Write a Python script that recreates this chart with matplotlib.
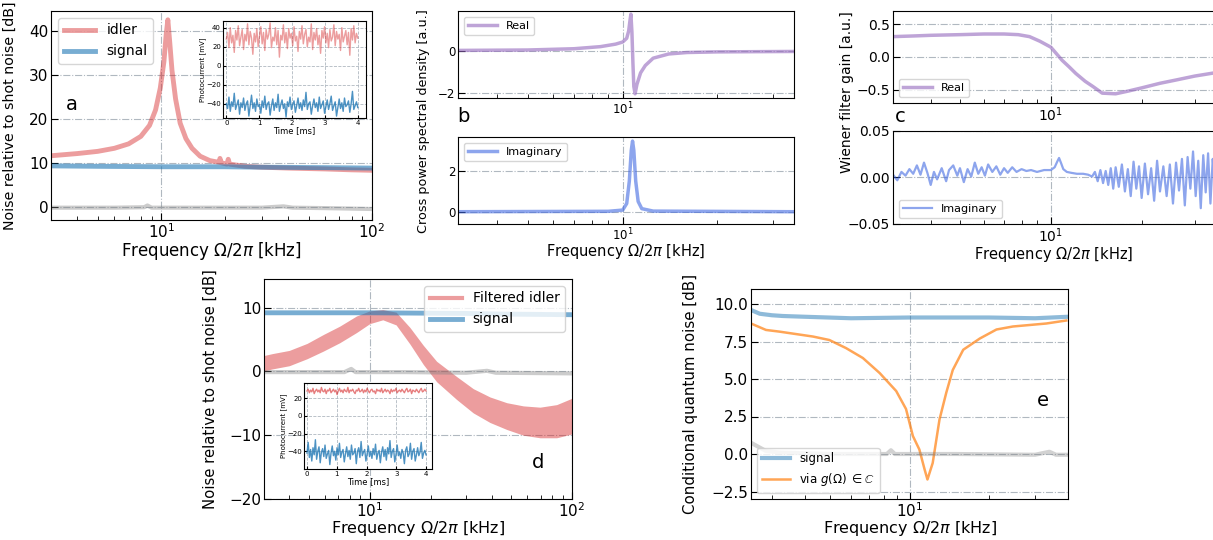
import numpy as np
import matplotlib
matplotlib.use("Agg")
import matplotlib.pyplot as plt

# ---------------- data ----------------
# panel a: noise spectra relative to shot noise [dB]
a_idler_f = [3, 4, 5, 6, 7, 8, 8.8, 9.4, 9.9, 10.3, 10.55, 10.75, 10.95, 11.25, 11.7, 12.3, 13.1,
             14.0, 15.3, 17.0, 18.8, 19.0, 19.3, 20.5, 20.8, 21.1, 25, 30, 40, 60, 80, 100]
a_idler_db = [11.6, 12.1, 12.6, 13.3, 14.3, 16.0, 18.5, 22.0, 27.0, 33.0, 39.0, 42.5, 38.0, 31.0,
              24.5, 19.0, 15.5, 13.3, 11.5, 10.5, 10.1, 11.0, 10.0, 9.7, 10.8, 9.7, 9.2, 9.0,
              8.8, 8.6, 8.4, 8.3]
a_signal_f = [3, 5, 10, 20, 30, 60, 100]
a_signal_db = [9.3, 9.2, 9.1, 9.1, 9.0, 8.9, 8.8]
a_shot_f = [3, 6, 8.3, 8.6, 9, 15, 30, 38, 42, 60, 100]
a_shot_db = [-0.2, -0.2, -0.1, 0.3, -0.2, -0.2, -0.2, 0.1, -0.2, -0.3, -0.5]

# panel a inset: photocurrents [mV]
ina_idler = [28, 35, 19, 40, 24, 32, 14, 37, 27, 42, 21, 30, 38, 17, 33, 26, 44, 22, 36, 29,
             12, 34, 25, 39, 20, 31, 41, 23, 35, 16, 38, 28, 33, 45, 19, 30, 26, 40, 22, 37,
             9, 32, 27, 43, 24, 35, 18, 39, 29, 34, 21, 41, 26, 31, 15, 36, 28, 42, 23, 33,
             38, 20, 30, 25, 44, 17, 35, 27, 39, 22, 32, 13, 37, 29, 41, 24, 34, 19, 38, 26,
             30, 43, 21, 36, 28, 33, 16, 40, 25, 31, 37, 22, 35, 11, 39, 27, 42, 24, 34, 29]
ina_signal = [-40, -45, -33, -48, -38, -43, -29, -46, -41, -36, -51, -39, -44, -34, -47, -40,
              -37, -53, -42, -31, -45, -39, -48, -35, -43, -41, -50, -37, -44, -32, -46, -40,
              -38, -52, -42, -35, -47, -39, -44, -30, -48, -41, -36, -45, -40, -54, -38, -43,
              -33, -46, -41, -37, -49, -42, -34, -45, -39, -47, -36, -43, -28, -46, -40, -38,
              -51, -42, -35, -44, -39, -48, -33, -45, -41, -37, -50, -43, -36, -46, -40, -32,
              -47, -42, -38, -53, -44, -35, -45, -39, -48, -34, -43, -41, -37, -49, -40, -27,
              -46, -42, -38, -44]

# panel b: cross power spectral density [a.u.]
b_real_f = [3, 5, 7, 8.5, 9.5, 10.0, 10.3, 10.45, 10.55, 10.62, 10.7, 10.78, 10.85, 10.95,
            11.1, 11.4, 11.8, 12.5, 14, 16, 20, 35]
b_real = [0.02, 0.04, 0.1, 0.2, 0.32, 0.42, 0.6, 0.95, 1.45, 1.75, 0.9, -0.6, -1.7, -2.05,
          -1.6, -1.05, -0.7, -0.35, -0.15, -0.08, -0.05, -0.03]
b_imag_f = [3, 9, 10, 10.3, 10.5, 10.65, 10.75, 10.85, 11.0, 11.2, 11.5, 12.5, 35]
b_imag = [0.0, 0.02, 0.08, 0.4, 1.5, 3.0, 3.45, 3.0, 1.5, 0.5, 0.15, 0.03, 0.0]

# panel c: Wiener filter gain [a.u.]
c_real_f = [3, 3.5, 4, 5, 6, 7, 7.8, 8.5, 9.2, 10, 10.9, 11.5, 12.1, 13, 13.8, 14.8, 16.4,
            18, 20, 23, 26, 30, 35]
c_real = [0.31, 0.32, 0.33, 0.34, 0.35, 0.35, 0.34, 0.31, 0.24, 0.15, -0.05, -0.15, -0.25,
          -0.37, -0.45, -0.55, -0.56, -0.52, -0.47, -0.4, -0.35, -0.29, -0.24]
c_imag_f = [3.0, 3.1, 3.2, 3.3, 3.4, 3.5, 3.6, 3.7, 3.8, 3.9, 4.0, 4.1, 4.2, 4.35, 4.5, 4.6,
            4.75, 4.9, 5.0, 5.15, 5.3, 5.45, 5.6, 5.75, 5.9, 6.05, 6.2, 6.4, 6.6, 6.8, 7.0,
            7.2, 7.45, 7.7, 8.0, 8.3, 8.6, 9.0, 9.5, 10.0, 10.3, 10.5, 10.65, 10.8, 11.0,
            11.3, 11.7, 12.2, 12.8, 13.3, 13.7, 14.0, 14.3, 14.6, 14.9, 15.2, 15.5, 15.8,
            16.1, 16.4, 16.8, 17.2, 17.6, 18.0, 18.4, 18.8, 19.2, 19.6, 20.0, 20.5, 21.0,
            21.5, 22.0, 22.5, 23.0, 23.6, 24.2, 24.8, 25.4, 26.0, 26.6, 27.2, 27.8, 28.4,
            29.0, 29.6, 30.2, 30.8, 31.4, 32.0, 32.6, 33.2, 33.8, 34.4, 35.0]
c_imag = [0.003, -0.003, 0.006, 0.002, 0.009, 0.004, 0.013, 0.003, 0.016, 0.005, -0.008,
          0.006, -0.002, 0.01, -0.004, 0.008, 0.013, 0.002, 0.01, -0.005, 0.009, 0.001,
          0.016, 0.004, 0.011, 0.002, 0.014, 0.006, 0.012, 0.003, 0.01, 0.005, 0.011, 0.006,
          0.009, 0.007, 0.008, 0.006, 0.008, 0.008, 0.011, 0.017, 0.021, 0.016, 0.009,
          0.006, 0.005, 0.004, 0.004, 0.003, 0.001, 0.006, -0.004, 0.008, -0.006, 0.007,
          -0.008, 0.01, -0.012, 0.011, -0.01, 0.014, -0.015, 0.009, -0.02, 0.017, -0.012,
          0.012, -0.022, 0.015, -0.018, 0.01, -0.025, 0.018, -0.015, 0.012, -0.02, 0.014,
          -0.028, 0.016, -0.014, 0.02, -0.03, 0.022, -0.012, 0.028, -0.02, 0.018, -0.033,
          0.024, -0.016, 0.026, -0.028, 0.02, -0.01]

# panel d: filtered idler vs signal [dB]
d_idler_f = [3, 3.3, 4, 4.9, 5.9, 7.1, 8.6, 10, 11.6, 13.5, 15.8, 18.4, 21.4, 26.9, 32.5,
             39.3, 47.6, 57.5, 69.5, 84, 100]
d_idler_db = [1.3, 1.6, 2.1, 3.2, 4.5, 5.8, 7.4, 8.5, 8.9, 8.3, 5.6, 2.6, 0.0, -2.6, -4.6,
              -6.0, -7.0, -7.7, -8.0, -7.8, -7.0]
d_idler_spread = [1.2, 1.2, 1.2, 1.2, 1.3, 1.3, 1.3, 1.0, 0.8, 1.0, 1.3, 1.5, 1.6, 1.8,
                  1.9, 2.0, 2.1, 2.3, 2.4, 2.6, 2.8]
d_signal_f = [3, 10, 30, 45, 100]
d_signal_db = [9.2, 9.2, 9.1, 9.0, 8.9]
d_shot_f = [3, 7.5, 8.1, 8.5, 15, 30, 38, 42, 100]
d_shot_db = [-0.1, -0.1, 0.4, -0.1, -0.1, -0.2, 0.1, -0.2, -0.3]

ind_idler = [28, 30, 26, 29, 27, 31, 25, 28, 30, 27, 29, 26, 32, 28, 27, 30, 25, 29, 28, 31,
             26, 28, 30, 27, 29, 24, 28, 31, 27, 29, 26, 30, 28, 27, 32, 26, 29, 28, 30, 27,
             25, 29, 28, 31, 27, 28, 30, 26, 29, 27, 31, 28, 26, 29, 30, 27, 28, 25, 30, 28,
             29, 27, 31, 26, 28, 30, 27, 29, 28, 25, 30, 27, 29, 28, 31, 26, 28, 29, 27, 30,
             28, 26, 29, 31, 27, 28, 30, 25, 29, 28, 27, 30, 28, 26, 29, 31, 27, 28, 30, 28]
ind_signal = [-42, -30, -47, -38, -51, -36, -44, -27, -49, -40, -35, -53, -41, -37, -46, -33,
              -48, -43, -39, -55, -42, -34, -45, -40, -50, -36, -44, -31, -47, -41, -38, -52,
              -43, -35, -46, -39, -49, -33, -44, -42, -37, -54, -40, -36, -47, -29, -45, -41,
              -38, -51, -43, -34, -46, -40, -48, -37, -44, -32, -49, -42, -39, -53, -41, -35,
              -46, -38, -50, -36, -43, -28, -47, -40, -37, -52, -44, -33, -45, -41, -48, -38,
              -42, -54, -39, -35, -46, -43, -31, -49, -40, -37, -51, -44, -36, -45, -41, -30,
              -48, -42, -39, -44]

# panel e: conditional quantum noise [dB]
e_signal_f = [2.5, 2.7, 3, 3.3, 4, 6, 10, 15, 20, 30, 40]
e_signal_db = [9.6, 9.35, 9.25, 9.2, 9.15, 9.05, 9.1, 9.1, 9.1, 9.05, 9.15]
e_cond_f = [2.5, 2.85, 3.2, 4.3, 4.96, 5.74, 6.65, 7.7, 8.9, 9.7, 10.3, 10.9, 11.4, 11.7,
            12.25, 13.0, 13.8, 14.6, 16, 18.5, 21.4, 24.7, 33.1, 39.4]
e_cond_db = [8.7, 8.27, 8.16, 7.83, 7.6, 7.06, 6.4, 5.4, 4.2, 3.0, 1.2, 0.3, -1.0, -1.7,
             -0.6, 2.3, 4.1, 5.6, 6.95, 7.7, 8.3, 8.5, 8.7, 8.9]
e_shot_f = [2.5, 2.85, 3.2, 5, 8.2, 8.5, 8.8, 15, 30, 34, 36, 40]
e_shot_db = [0.75, 0.2, 0.1, 0.0, 0.0, 0.25, 0.0, 0.0, -0.05, 0.15, -0.05, -0.05]

# ---------------- styling ----------------
W, H = 1213, 540
RED = "#d62728"
BLUE = "#1f77b4"
PURPLE = "#9467bd"
ROYAL = "#4169e1"
ORANGE = "#ff7f0e"
GRID = dict(color="#b0b8c0", linestyle="-.", linewidth=0.8)
XLABEL = r"Frequency $\Omega/2\pi$ [kHz]"

fig = plt.figure(figsize=(W / 100, H / 100), dpi=100)


def box(l, r, t, b):
    return [l / W, 1 - b / H, (r - l) / W, (b - t) / H]


def style_main(ax, tick_size):
    ax.set_xscale("log")
    ax.tick_params(which="both", direction="in", labelsize=tick_size, pad=2)
    ax.tick_params(which="major", length=5)
    ax.tick_params(which="minor", length=3)
    ax.grid(True, which="major", **GRID)
    ax.set_axisbelow(True)


def style_inset(ax):
    ax.tick_params(which="both", direction="in", labelsize=5, length=2, pad=1.5)
    ax.grid(True, color="#b0b8c0", linestyle="--", linewidth=0.6)
    ax.set_xticks([0, 1, 2, 3, 4])
    ax.set_xlabel("Time [ms]", fontsize=6, labelpad=0)
    ax.set_ylabel("Photocurrent [mV]", fontsize=5, labelpad=0)
    for s in ax.spines.values():
        s.set_linewidth(0.8)


def ylabel_at(ax, text, size, xpix, left, width):
    ax.set_ylabel(text, fontsize=size)
    ax.yaxis.set_label_coords((xpix - left) / width, 0.5)


# ---------------- panel a ----------------
ax_a = fig.add_axes(box(51, 372, 11, 220))
ax_a.plot(a_idler_f, a_idler_db, color=RED, alpha=0.45, lw=3.5, label="idler")
ax_a.plot(a_signal_f, a_signal_db, color=BLUE, alpha=0.6, lw=3.5, label="signal")
ax_a.plot(a_shot_f, a_shot_db, color="grey", alpha=0.4, lw=3)
style_main(ax_a, 11)
ax_a.set_xlim(3, 100)
ax_a.set_ylim(-3, 44.5)
ax_a.set_yticks([0, 10, 20, 30, 40])
ax_a.set_xlabel(XLABEL, fontsize=12, labelpad=-1)
ylabel_at(ax_a, "Noise relative to shot noise [dB]", 10.2, 17, 51, 321)
ax_a.legend(loc="upper left", fontsize=10, handlelength=2.3)
fig.text(72 / W, 1 - 104 / H, "a", fontsize=14, ha="center", va="center")

ia = fig.add_axes(box(223, 366, 21, 118))
t_a = np.linspace(0, 4, len(ina_idler))
ia.plot(t_a, ina_idler, color=RED, alpha=0.45, lw=1)
ia.plot(t_a, ina_signal, color=BLUE, alpha=0.8, lw=1)
ia.set_xlim(-0.1, 4.25)
ia.set_ylim(-55, 47)
ia.set_yticks([-40, -20, 0, 20, 40])
style_inset(ia)

# ---------------- panel b ----------------
ax_b1 = fig.add_axes(box(458, 794, 11, 98))
ax_b1.plot(b_real_f, b_real, color=PURPLE, alpha=0.6, lw=2.5, label="Real")
style_main(ax_b1, 8.5)
ax_b1.set_xlim(3, 35)
ax_b1.set_ylim(-2.25, 1.9)
ax_b1.set_yticks([-2, 0])
ax_b1.legend(loc="upper left", fontsize=8, handlelength=2.6)

ax_b2 = fig.add_axes(box(458, 794, 137, 224))
ax_b2.plot(b_imag_f, b_imag, color=ROYAL, alpha=0.6, lw=2.5, label="Imaginary")
style_main(ax_b2, 8.5)
ax_b2.set_xlim(3, 35)
ax_b2.set_ylim(-0.6, 3.65)
ax_b2.set_yticks([0, 2])
ax_b2.legend(loc="upper left", fontsize=8, handlelength=2.6)
ax_b2.set_xlabel(XLABEL, fontsize=10.5, labelpad=-1)
fig.text(423 / W, 1 - 121 / H, "Cross power spectral density [a.u.]", rotation=90,
         fontsize=9.2, ha="center", va="center")
fig.text(463 / W, 1 - 117 / H, "b", fontsize=14, ha="center", va="center")

# ---------------- panel c ----------------
ax_c1 = fig.add_axes(box(893, 1215, 11, 103))
ax_c1.plot(c_real_f, c_real, color=PURPLE, alpha=0.6, lw=2.5, label="Real")
style_main(ax_c1, 10)
ax_c1.set_xlim(3, 35)
ax_c1.set_ylim(-0.7, 0.7)
ax_c1.set_yticks([-0.5, 0.0, 0.5])
ax_c1.legend(loc="lower left", fontsize=8, handlelength=2.6)

ax_c2 = fig.add_axes(box(893, 1215, 131, 224))
ax_c2.plot(c_imag_f, c_imag, color=ROYAL, alpha=0.6, lw=1.6, label="Imaginary")
style_main(ax_c2, 10)
ax_c2.set_xlim(3, 35)
ax_c2.set_ylim(-0.05, 0.05)
ax_c2.set_yticks([-0.05, 0.0, 0.05])
ax_c2.legend(loc="lower left", fontsize=8, handlelength=2.6)
ax_c2.set_xlabel(XLABEL, fontsize=10.5, labelpad=0)
fig.text(847 / W, 1 - 92 / H, "Wiener filter gain [a.u.]", rotation=90,
         fontsize=10, ha="center", va="center")
fig.text(900 / W, 1 - 117 / H, "c", fontsize=14, ha="center", va="center")

# ---------------- panel d ----------------
ax_d = fig.add_axes(box(264, 572, 279, 499))
d_lo = [v - s for v, s in zip(d_idler_db, d_idler_spread)]
d_hi = [v + s for v, s in zip(d_idler_db, d_idler_spread)]
ax_d.fill_between(d_idler_f, d_lo, d_hi, color=RED, alpha=0.45, lw=0)
ax_d.plot(d_idler_f, d_idler_db, color=RED, alpha=0.0, lw=3, label="Filtered idler")
ax_d.plot(d_signal_f, d_signal_db, color=BLUE, alpha=0.6, lw=3.5, label="signal")
ax_d.plot(d_shot_f, d_shot_db, color="grey", alpha=0.4, lw=3)
style_main(ax_d, 11)
ax_d.set_xlim(3, 100)
ax_d.set_ylim(-20, 14.5)
ax_d.set_yticks([-20, -10, 0, 10])
ax_d.set_xlabel(XLABEL, fontsize=11.5, labelpad=-1)
ylabel_at(ax_d, "Noise relative to shot noise [dB]", 10.7, 218, 264, 308)
leg = ax_d.legend(loc="upper right", fontsize=10, handlelength=2.3)
leg.get_lines()[0].set_alpha(0.45)
fig.text(538 / W, 1 - 463 / H, "d", fontsize=14, ha="center", va="center")

idn = fig.add_axes(box(304, 432, 383, 469))
t_d = np.linspace(0, 4, len(ind_idler))
idn.plot(t_d, ind_idler, color=RED, alpha=0.6, lw=1)
idn.plot(t_d, ind_signal, color=BLUE, alpha=0.8, lw=1)
idn.set_xlim(-0.1, 4.2)
idn.set_ylim(-60, 37)
idn.set_yticks([-40, -20, 0, 20])
style_inset(idn)

# ---------------- panel e ----------------
ax_e = fig.add_axes(box(751, 1068, 289, 499))
ax_e.plot(e_signal_f, e_signal_db, color=BLUE, alpha=0.5, lw=3, label="signal")
ax_e.plot(e_cond_f, e_cond_db, color=ORANGE, alpha=0.7, lw=1.8,
          label=r"via $g(\Omega)$ $\in\mathbb{C}$")
ax_e.plot(e_shot_f, e_shot_db, color="grey", alpha=0.35, lw=3)
style_main(ax_e, 11)
ax_e.set_xlim(2.5, 40)
ax_e.set_ylim(-3, 11)
ax_e.set_yticks([-2.5, 0.0, 2.5, 5.0, 7.5, 10.0])
ax_e.set_xlabel(XLABEL, fontsize=11.5, labelpad=-1)
ylabel_at(ax_e, "Conditional quantum noise [dB]", 10.8, 698, 751, 317)
ax_e.legend(loc="lower left", fontsize=8.5, handlelength=2.4)
fig.text(1043 / W, 1 - 400 / H, "e", fontsize=14, ha="center", va="center")

fig.savefig("out.png", dpi=100)
